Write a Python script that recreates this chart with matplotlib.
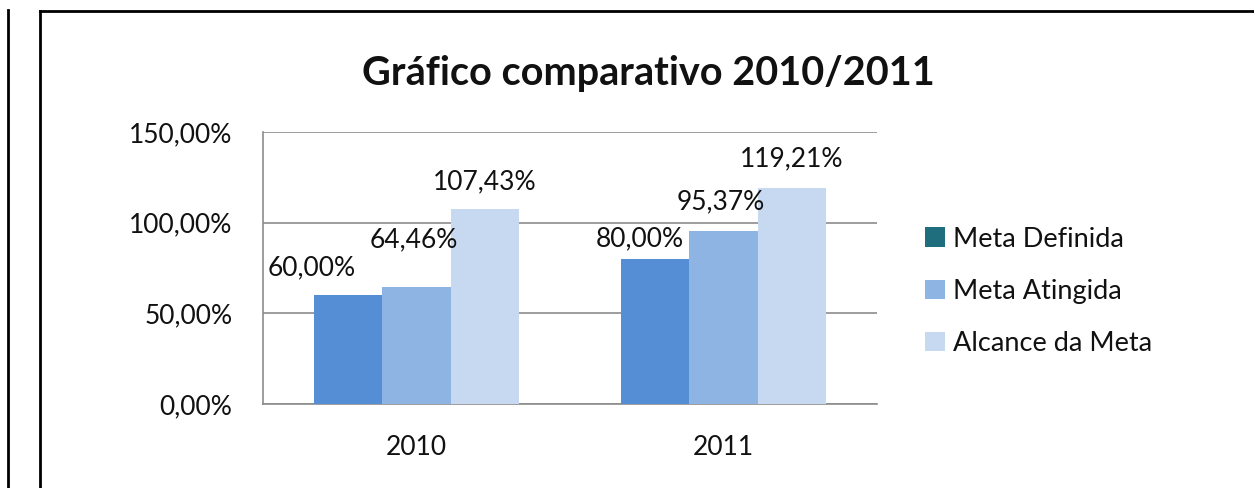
import matplotlib.pyplot as plt
from matplotlib.patches import Patch
from matplotlib.lines import Line2D
import numpy as np

plt.rcParams["font.family"] = ["Lato", "DejaVu Sans"]

years = ["2010", "2011"]
series = ["Meta Definida", "Meta Atingida", "Alcance da Meta"]
meta_definida = [60.00, 80.00]
meta_atingida = [64.46, 95.37]
alcance_meta = [107.43, 119.21]
values = [meta_definida, meta_atingida, alcance_meta]

bar_colors = ["#558ED5", "#8EB4E3", "#C6D9F1"]
legend_colors = ["#1F6E7E", "#8EB4E3", "#C6D9F1"]
# label offsets (x in category units, y in data units), hand tuned
label_dx = [[-0.12, -0.05], [-0.01, -0.01], [0.0, 0.0]]
label_dy = [[15, 11], [26, 16], [15, 16]]

fig = plt.figure(figsize=(12.54, 4.88), dpi=100)

# outer page borders
fig.add_artist(Line2D([8 / 1254, 8 / 1254], [0, 1 - 10 / 488], color="black", lw=2))
fig.add_artist(Line2D([40 / 1254, 40 / 1254], [0, 1 - 11 / 488], color="black", lw=2))
fig.add_artist(Line2D([40 / 1254, 1], [1 - 11 / 488, 1 - 11 / 488], color="black", lw=2))

ax = fig.add_axes([263 / 1254, 1 - 404 / 488, (877 - 263) / 1254, (404 - 132) / 488])

txt = "#111111"
x = np.arange(len(years))
w = 0.223
for i, vals in enumerate(values):
    pos = x + (i - 1) * w
    ax.bar(pos, vals, width=w, color=bar_colors[i], zorder=3)
    for j, v in enumerate(vals):
        ax.text(pos[j] + label_dx[i][j], v + label_dy[i][j],
                f"{v:.2f}%".replace(".", ","), ha="center", va="center",
                fontsize=19, color=txt, zorder=4)

ax.set_xlim(-0.5, 1.5)
ax.set_ylim(0, 150)
ax.set_yticks([0, 50, 100, 150])
ax.set_yticklabels(["0,00%", "50,00%", "100,00%", "150,00%"])
ax.set_xticks(x)
ax.set_xticklabels(years)
ax.tick_params(axis="both", length=0, labelsize=19, colors=txt)
ax.tick_params(axis="y", pad=22)
ax.tick_params(axis="x", pad=22)
ax.grid(axis="y", color="#8C8C8C", lw=1.2, zorder=0)
for s in ["top", "right"]:
    ax.spines[s].set_visible(False)
for s in ["left", "bottom"]:
    ax.spines[s].set_color("#8C8C8C")
    ax.spines[s].set_linewidth(1.2)

fig.text(648 / 1254, 1 - 73 / 488, "Gráfico comparativo 2010/2011",
         ha="center", va="center", fontsize=28.5, fontweight="bold", color=txt)

handles = [Patch(facecolor=c, edgecolor="none") for c in legend_colors]
fig.legend(handles, series, loc="upper left", bbox_to_anchor=(914 / 1254, 1 - 216 / 488),
           frameon=False, fontsize=19.5, handlelength=0.75, handleheight=0.75,
           handletextpad=0.3, labelspacing=1.0, borderaxespad=0, labelcolor=txt)

fig.savefig("out.png", dpi=100)
